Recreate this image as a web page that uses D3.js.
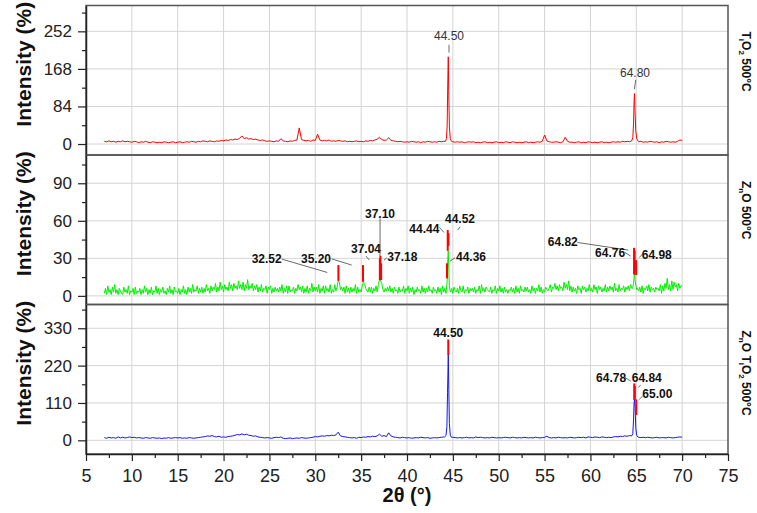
<!DOCTYPE html>
<html>
<head>
<meta charset="utf-8">
<script src="https://cdn.jsdelivr.net/npm/d3@7"></script>
<style>
  body { margin: 0; background: #fff; }
</style>
</head>
<body>
<div id="main"></div>
<script>
// baselines start at 7 deg and run to 70 deg, peaks are patched in with finer points
var grid_start = 7

// TiO2, read every 0.25 deg
var tio2_step = 0.25
var tio2_base = [
  6, 5, 7, 5, 6, 4, 6, 5, 7, 5, 6, 5, 4, 6, 5, 3, 5, 4, 6, 4,
  3, 5, 4, 3, 4, 3, 5, 4, 3, 4, 5, 3, 4, 5, 3, 4, 5, 4, 6, 5,
  4, 6, 5, 7, 6, 5, 7, 6, 5, 7, 6, 8, 7, 9, 8, 10, 9, 11, 10, 13,
  18, 12, 14, 11, 12, 10, 11, 9, 8, 9, 7, 6, 7, 6, 5, 7, 6, 12, 7, 6,
  5, 7, 6, 8, 9, 36, 10, 8, 7, 8, 6, 9, 8, 22, 9, 7, 8, 7, 9, 6,
  7, 6, 8, 7, 6, 7, 5, 6, 5, 6, 7, 5, 6, 5, 7, 6, 8, 7, 9, 11,
  15, 10, 8, 9, 14, 8, 7, 6, 5, 6, 5, 4, 5, 4, 6, 5, 4, 5, 3, 5,
  4, 6, 5, 4, 5, 4, 6, 5, 6, 6, 6, 6, 5, 4, 5, 4, 5, 3, 4, 5,
  4, 5, 3, 4, 3, 4, 5, 3, 4, 3, 4, 5, 3, 4, 3, 5, 4, 3, 5, 4,
  3, 4, 3, 4, 5, 3, 4, 3, 4, 5, 4, 6, 20, 7, 5, 4, 4, 5, 4, 3,
  5, 15, 6, 4, 4, 3, 4, 5, 3, 4, 3, 5, 4, 3, 4, 3, 4, 5, 3, 4,
  3, 4, 5, 4, 5, 4, 6, 5, 6, 5, 7, 8, 6, 5, 6, 4, 5, 4, 6, 5,
  4, 5, 3, 5, 4, 6, 5, 4, 5, 4, 6, 9, 8
]
var tio2_peaks = [
  [[44.2, 6], [44.3, 12], [44.38, 40], [44.44, 130], [44.5, 195], [44.55, 120], [44.62, 40], [44.72, 12], [44.85, 6]],
  [[64.5, 7], [64.62, 14], [64.7, 45], [64.76, 95], [64.8, 113], [64.86, 75], [64.94, 30], [65.05, 12], [65.2, 6]]
]

// ZnO, noisier, read every 0.125 deg (one row = one degree)
var zno_step = 0.125
var zno_base = [
  2, 6, 1, 8, 3, 5, 1, 7,
  3, 9, 2, 5, 1, 6, 4, 2,
  1, 7, 3, 5, 2, 8, 1, 4,
  3, 6, 1, 7, 2, 4, 3, 6,
  1, 5, 2, 8, 3, 6, 1, 5,
  2, 7, 1, 4, 3, 8, 2, 6,
  1, 5, 3, 7, 2, 4, 1, 6,
  3, 8, 2, 5, 1, 7, 3, 4,
  2, 6, 1, 5, 3, 8, 2, 5,
  1, 7, 3, 6, 2, 9, 3, 5,
  4, 8, 2, 6, 3, 7, 2, 6,
  3, 9, 4, 6, 2, 8, 4, 7,
  5, 10, 3, 7, 4, 11, 5, 8,
  3, 9, 5, 7, 4, 11, 6, 9,
  4, 10, 6, 8, 5, 12, 6, 9,
  5, 11, 4, 9, 6, 13, 5, 8,
  6, 10, 4, 8, 5, 9, 3, 7,
  4, 9, 3, 6, 5, 8, 2, 7,
  5, 8, 2, 6, 3, 7, 4, 6,
  3, 7, 4, 9, 2, 6, 3, 8,
  2, 8, 3, 5, 4, 7, 2, 6,
  4, 9, 5, 7, 3, 8, 2, 6,
  3, 8, 2, 6, 4, 10, 3, 7,
  4, 7, 3, 9, 2, 6, 4, 8,
  2, 8, 4, 6, 3, 9, 2, 5,
  3, 9, 4, 7, 12, 11, 5, 7,
  4, 7, 2, 8, 3, 6, 2, 7,
  3, 6, 4, 9, 2, 7, 3, 5,
  3, 8, 11, 10, 6, 4, 3, 7,
  3, 7, 2, 6, 4, 8, 3, 9,
  13, 12, 10, 5, 3, 6, 4, 7,
  4, 8, 3, 6, 2, 7, 4, 5,
  2, 7, 3, 5, 4, 8, 2, 6,
  4, 8, 2, 6, 3, 7, 1, 5,
  3, 7, 4, 5, 2, 8, 3, 6,
  2, 6, 3, 8, 4, 5, 2, 7,
  4, 5, 2, 7, 3, 6, 1, 8,
  3, 6, 2, 5, 5, 5, 3, 6,
  2, 7, 4, 3, 6, 2, 8, 4,
  3, 8, 2, 5, 4, 7, 2, 6,
  4, 6, 3, 7, 2, 5, 4, 8,
  2, 9, 4, 6, 3, 7, 5, 4,
  3, 7, 2, 5, 4, 8, 2, 6,
  4, 8, 3, 6, 2, 7, 3, 5,
  2, 5, 4, 7, 3, 6, 2, 8,
  3, 6, 2, 8, 4, 5, 3, 7,
  4, 7, 3, 5, 2, 8, 4, 6,
  2, 6, 4, 9, 3, 7, 2, 5,
  3, 7, 5, 4, 6, 9, 3, 7,
  6, 10, 5, 8, 4, 9, 6, 7,
  4, 11, 6, 9, 5, 12, 4, 8,
  3, 7, 4, 6, 2, 8, 5, 6,
  2, 8, 5, 7, 3, 6, 4, 9,
  4, 6, 3, 9, 5, 7, 2, 8,
  5, 7, 3, 6, 4, 9, 3, 7,
  4, 8, 5, 7, 3, 10, 4, 6,
  3, 9, 4, 6, 5, 8, 3, 7,
  5, 8, 4, 9, 6, 6, 6, 6,
  6, 6, 4, 7, 3, 8, 2, 6,
  5, 8, 4, 9, 3, 7, 5, 6,
  3, 7, 5, 6, 4, 9, 2, 8,
  4, 10, 6, 14, 5, 9, 4, 12,
  5, 11, 7, 9, 4, 10, 6, 8,
  8
]
var zno_peaks = [
  [[44.3, 5], [44.38, 12], [44.44, 28], [44.5, 36], [44.56, 20], [44.62, 8], [44.7, 4]],
  [[64.6, 6], [64.7, 10], [64.8, 18], [64.88, 12], [64.96, 8], [65.06, 5]]
]

// ZnO-TiO2, read every 0.25 deg
var znotio2_step = 0.25
var znotio2_base = [
  8, 6, 9, 7, 8, 6, 10, 7, 9, 7, 8, 10, 8, 9, 7, 8, 7, 6, 8, 7,
  6, 8, 7, 6, 7, 5, 7, 6, 8, 6, 7, 8, 7, 8, 6, 7, 6, 8, 7, 6,
  7, 8, 9, 10, 11, 13, 12, 14, 11, 10, 12, 9, 10, 9, 11, 12, 13, 15, 17, 16,
  19, 16, 18, 15, 14, 12, 13, 10, 9, 8, 7, 8, 7, 6, 8, 9, 8, 10, 6, 5,
  6, 7, 5, 6, 7, 6, 8, 7, 6, 7, 8, 9, 11, 10, 12, 13, 12, 14, 13, 15,
  14, 16, 24, 13, 11, 10, 9, 8, 7, 8, 6, 9, 8, 10, 9, 11, 10, 12, 11, 13,
  18, 12, 14, 11, 22, 13, 10, 9, 8, 7, 9, 8, 7, 8, 6, 7, 8, 7, 9, 8,
  7, 8, 6, 7, 8, 7, 8, 9, 10, 10, 10, 10, 9, 8, 7, 8, 7, 8, 9, 7,
  8, 7, 10, 8, 9, 8, 7, 8, 7, 9, 8, 7, 8, 7, 8, 9, 8, 7, 9, 8,
  7, 8, 7, 9, 8, 7, 8, 7, 9, 8, 7, 8, 9, 12, 8, 7, 8, 7, 9, 8,
  7, 8, 7, 9, 8, 7, 8, 9, 8, 9, 7, 10, 9, 8, 10, 9, 8, 10, 9, 8,
  9, 8, 10, 11, 10, 12, 11, 13, 12, 14, 12, 12, 10, 9, 8, 9, 8, 9, 8, 7,
  8, 9, 7, 8, 8, 7, 9, 8, 7, 8, 9, 10, 9
]
var znotio2_peaks = [
  [[44.1, 10], [44.25, 14], [44.35, 40], [44.42, 140], [44.5, 251], [44.56, 150], [44.62, 50], [44.72, 15], [44.85, 9]],
  [[64.5, 13], [64.62, 20], [64.7, 60], [64.76, 110], [64.82, 121], [64.88, 90], [64.95, 35], [65.05, 14], [65.2, 9]]
]

// axes
var x_ticks = [5, 10, 15, 20, 25, 30, 35, 40, 45, 50, 55, 60, 65, 70, 75]
var x_minor = [7.5, 12.5, 17.5, 22.5, 27.5, 32.5, 37.5, 42.5, 47.5, 52.5, 57.5, 62.5, 67.5, 72.5]
var y_domains = [[-24.6, 309.8], [-6.9, 112.6], [-40.3, 400]]
var y_ticks = [[0, 84, 168, 252], [0, 30, 60, 90], [0, 110, 220, 330]]
var y_minor = [[42, 126, 210, 294], [15, 45, 75, 105], [55, 165, 275, 385]]

// sample names, [text, subscript?]
var sample_names = [
  [['T', 0], ['i', 1], ['O', 0], ['2', 1], [' 500°C', 0]],
  [['Z', 0], ['n', 1], ['O 500°C', 0]],
  [['Z', 0], ['n', 1], ['O T', 0], ['i', 1], ['O', 0], ['2', 1], [' 500°C', 0]]
]

// peak labels: text, label centre (deg, intensity), leader line
var tio2_labels = ['44.50', '64.80']
var tio2_label_x = [44.58, 64.86]
var tio2_label_y = [241.9, 159.2]
var tio2_leaders = [[44.58, 221.8, 44.58, 204.5], [64.94, 143.4, 64.79, 122.5]]
var tio2_mark_top = []
var tio2_mark_bottom = []

var zno_labels = ['32.52', '35.20', '37.04', '37.10', '37.18', '44.44', '44.52', '44.36', '64.82', '64.76', '64.98']
var zno_label_x = [24.70, 30.08, 35.53, 37.06, 39.49, 41.89, 45.78, 46.98, 56.98, 62.14, 67.23]
var zno_label_y = [29.4, 29.4, 37.4, 65.9, 31.2, 53.4, 61.4, 31.2, 43.2, 34.7, 33.1]
var zno_leaders = [
  [26.34, 29.4, 31.31, 18.7], [31.79, 29.6, 33.97, 24.6], [35.53, 31.8, 35.89, 28.6],
  [37.06, 61.9, 37.06, 31.8], [37.49, 28.6, 37.79, 30.4], [43.52, 54.7, 44.04, 50.7],
  [45.78, 55.2, 45.53, 52.6], [44.69, 27.8, 45.24, 30.4], [58.57, 42.7, 64.13, 36.6],
  [63.77, 34.7, 64.39, 31.8], [65.33, 30.7, 65.70, 33.6]
]
var zno_mark_top = [24.6, 24.6, 30, 32, 26, 52.6, 50, 26, 36, 38.4, 28.6]
var zno_mark_bottom = [12, 11.2, 12.6, 18, 12.6, 36, 40, 14, 20, 17, 16.6]

var znotio2_labels = ['44.50', '64.78', '64.84', '65.00']
var znotio2_label_x = [44.50, 62.25, 66.14, 67.30]
var znotio2_label_y = [316.5, 185.3, 185.3, 138.2]
var znotio2_leaders = [null, [63.77, 185.3, 64.39, 174.4], [65.48, 162.6, 65.22, 155.9], [65.33, 120.6, 65.70, 130.3]]
var znotio2_mark_top = [297, 167.6, 160, 120.6]
var znotio2_mark_bottom = [251, 118.5, 120, 74.4]

var font = 'Liberation Sans, Arial, Helvetica, sans-serif'
var w = 757
var h = 513
var plot = { left: 86, right: 728, top: 5.5, bottom: 454 }
var panel_h = (plot.bottom - plot.top) / 3

var svg = d3.select('div#main').append('svg')
  .attr('width', w)
  .attr('height', h)
  .attr('viewBox', [0, 0, w, h].join(' '))
  .style('background-color', '#fff')
  .style('font-family', font)

var scale_x = d3.scaleLinear().domain([5, 75]).range([plot.left, plot.right])

function build_series (base, step, peaks) {
  var pts = base.map(function (v, i) { return [grid_start + i * step, v] })
  peaks.forEach(function (pk) {
    var lo = pk[0][0]
    var hi = pk[pk.length - 1][0]
    pts = pts.filter(function (p) { return p[0] < lo || p[0] > hi }).concat(pk)
  })
  pts.sort(function (a, b) { return a[0] - b[0] })
  return pts
}

var panels = [
  { data: build_series(tio2_base, tio2_step, tio2_peaks), color: 'rgb(255,0,0)', labels: tio2_labels, lx: tio2_label_x, ly: tio2_label_y, leaders: tio2_leaders, top: tio2_mark_top, bottom: tio2_mark_bottom, bold: false },
  { data: build_series(zno_base, zno_step, zno_peaks), color: 'rgb(0,240,0)', labels: zno_labels, lx: zno_label_x, ly: zno_label_y, leaders: zno_leaders, top: zno_mark_top, bottom: zno_mark_bottom, bold: true },
  { data: build_series(znotio2_base, znotio2_step, znotio2_peaks), color: 'rgb(20,20,255)', labels: znotio2_labels, lx: znotio2_label_x, ly: znotio2_label_y, leaders: znotio2_leaders, top: znotio2_mark_top, bottom: znotio2_mark_bottom, bold: true }
]

panels.forEach(function (p, i) {
  var top = plot.top + i * panel_h
  var bottom = top + panel_h
  var scale_y = d3.scaleLinear().domain(y_domains[i]).range([bottom, top])
  var g = svg.append('g')

  // grid
  x_ticks.slice(1, -1).forEach(function (t) {
    g.append('line')
      .attr('x1', scale_x(t)).attr('x2', scale_x(t))
      .attr('y1', top).attr('y2', bottom)
      .attr('stroke', '#d4d4d4').attr('stroke-width', 1)
  })
  y_ticks[i].forEach(function (t) {
    g.append('line')
      .attr('x1', plot.left).attr('x2', plot.right)
      .attr('y1', scale_y(t)).attr('y2', scale_y(t))
      .attr('stroke', '#d4d4d4').attr('stroke-width', 1)
  })

  var line = d3.line()
    .x(function (d) { return scale_x(d[0]) })
    .y(function (d) { return scale_y(d[1]) })
  g.append('path')
    .attr('d', line(p.data))
    .attr('fill', 'none')
    .attr('stroke', p.color)
    .attr('stroke-width', 1)

  // red peak marks
  p.top.forEach(function (t, k) {
    var px = +p.labels[k]
    g.append('line')
      .attr('x1', scale_x(px)).attr('x2', scale_x(px))
      .attr('y1', scale_y(t)).attr('y2', scale_y(p.bottom[k]))
      .attr('stroke', 'rgb(255,0,0)').attr('stroke-width', 2)
  })

  p.labels.forEach(function (txt, k) {
    var ld = p.leaders[k]
    if (ld) {
      g.append('line')
        .attr('x1', scale_x(ld[0])).attr('y1', scale_y(ld[1]))
        .attr('x2', scale_x(ld[2])).attr('y2', scale_y(ld[3]))
        .attr('stroke', '#444').attr('stroke-width', 0.8)
    }
    g.append('text')
      .text(txt)
      .attr('x', scale_x(p.lx[k]))
      .attr('y', scale_y(p.ly[k]))
      .attr('dy', '0.35em')
      .attr('text-anchor', 'middle')
      .style('font-size', '12px')
      .style('font-weight', p.bold ? 'bold' : 'normal')
      .attr('fill', p.bold ? '#111' : '#333')
  })

  // frame
  g.append('rect')
    .attr('x', plot.left).attr('y', top)
    .attr('width', plot.right - plot.left).attr('height', panel_h)
    .attr('fill', 'none')
    .attr('stroke', '#555').attr('stroke-width', 1.5)

  var ax = svg.append('g')
    .attr('transform', 'translate(' + plot.left + ',0)')
    .call(d3.axisLeft(scale_y).tickValues(y_ticks[i]).tickSize(8).tickPadding(6).tickSizeOuter(0))
  ax.selectAll('text').style('font-size', '17px').attr('font-family', font).attr('fill', '#222')
  ax.selectAll('line').attr('stroke', '#222').attr('stroke-width', 1.2)
  ax.select('.domain').attr('stroke', '#222').attr('stroke-width', 1.5)
  var axm = svg.append('g')
    .attr('transform', 'translate(' + plot.left + ',0)')
    .call(d3.axisLeft(scale_y).tickValues(y_minor[i].filter(function (t) { return t <= y_domains[i][1] })).tickSize(4).tickFormat('').tickSizeOuter(0))
  axm.selectAll('line').attr('stroke', '#222').attr('stroke-width', 1.2)
  axm.select('.domain').remove()

  svg.append('text')
    .text('Intensity (%)')
    .attr('transform', 'translate(31,' + ((top + bottom) / 2 - 16) + ') rotate(-90)')
    .attr('text-anchor', 'middle')
    .style('font-size', '21px')
    .style('font-weight', 'bold')
    .attr('fill', '#111')

  var nm = svg.append('text')
    .attr('transform', 'translate(741.5,' + (top + 26) + ') rotate(90)')
    .style('font-size', '12px')
    .style('font-weight', 'bold')
    .attr('fill', '#111')
  var shifted = false
  sample_names[i].forEach(function (part) {
    var sp = nm.append('tspan').text(part[0])
    if (part[1]) {
      sp.attr('dy', 3).style('font-size', '8px')
      shifted = true
    } else if (shifted) {
      sp.attr('dy', -3)
      shifted = false
    }
  })
})

var bx = svg.append('g')
  .attr('transform', 'translate(0,' + plot.bottom + ')')
  .call(d3.axisBottom(scale_x).tickValues(x_ticks).tickSize(7).tickPadding(8).tickSizeOuter(0))
bx.selectAll('text').style('font-size', '18px').attr('font-family', font).attr('fill', '#222')
bx.selectAll('line').attr('stroke', '#222').attr('stroke-width', 1.2)
bx.select('.domain').attr('stroke', '#222').attr('stroke-width', 1.5)
var bxm = svg.append('g')
  .attr('transform', 'translate(0,' + plot.bottom + ')')
  .call(d3.axisBottom(scale_x).tickValues(x_minor).tickSize(4).tickFormat('').tickSizeOuter(0))
bxm.selectAll('line').attr('stroke', '#222').attr('stroke-width', 1.2)
bxm.select('.domain').remove()

svg.append('text')
  .text('2θ (°)')
  .attr('x', (plot.left + plot.right) / 2)
  .attr('y', 502)
  .attr('text-anchor', 'middle')
  .style('font-size', '20px')
  .style('font-weight', 'bold')
  .attr('fill', '#111')
</script>
</body>
</html>
